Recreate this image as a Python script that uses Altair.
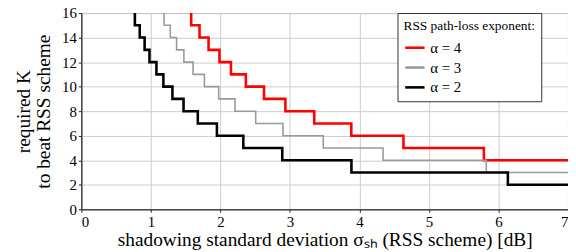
import altair as alt
import pandas as pd

# ---- data ----
series_names = ["α = 4", "α = 3", "α = 2"]
series_colors = ["#ff0000", "#9a9a9a", "#000000"]
series_widths = [2.6, 1.6, 2.6]

# sigma values (dB) where required K drops, and K level after each drop
red_x = [1.58, 1.70, 1.83, 1.987, 2.152, 2.366, 2.627, 2.935, 3.35, 3.883, 4.633, 5.79]
red_k = [15, 14, 13, 12, 11, 10, 9, 8, 7, 6, 5, 4]

gray_x = [1.19, 1.28, 1.37, 1.475, 1.607, 1.77, 1.975, 2.21, 2.508, 2.90, 3.48, 4.34, 5.825]
gray_k = [15, 14, 13, 12, 11, 10, 9, 8, 7, 6, 5, 4, 3]

black_x = [0.77, 0.84, 0.91, 0.98, 1.08, 1.18, 1.31, 1.47, 1.675, 1.95, 2.33, 2.89, 3.885, 6.135]
black_k = [15, 14, 13, 12, 11, 10, 9, 8, 7, 6, 5, 4, 3, 2]

x_ticks = [0, 1, 2, 3, 4, 5, 6, 7]
y_ticks = [0, 2, 4, 6, 8, 10, 12, 14, 16]
K_TOP = 16
X_END = 7

rows = []
for name, w, xs, ks in [(series_names[0], series_widths[0], red_x, red_k),
                        (series_names[1], series_widths[1], gray_x, gray_k),
                        (series_names[2], series_widths[2], black_x, black_k)]:
    pts = [(xs[0], K_TOP)] + list(zip(xs, ks)) + [(X_END, ks[-1])]
    for i, (x, k) in enumerate(pts):
        rows.append({"sigma": x, "K": k, "series": name, "idx": i, "sw": w})
df = pd.DataFrame(rows)

FONT = "Liberation Serif"

chart = alt.Chart(df).mark_line(interpolate="step-after", clip=True).encode(
    x=alt.X("sigma:Q",
            scale=alt.Scale(domain=[0, 7], nice=False),
            axis=alt.Axis(values=x_ticks, format="d",
                          title="shadowing standard deviation σₛₕ (RSS scheme) [dB]",
                          titlePadding=2)),
    y=alt.Y("K:Q",
            scale=alt.Scale(domain=[0, 16], nice=False),
            axis=alt.Axis(values=y_ticks, format="d",
                          title=["required K", "to beat RSS scheme"],
                          titlePadding=8)),
    color=alt.Color("series:N",
                    scale=alt.Scale(domain=series_names, range=series_colors),
                    legend=alt.Legend(title="RSS path-loss exponent:",
                                      orient="none", legendX=319, legendY=0,
                                      symbolType="stroke", symbolSize=380,
                                      symbolStrokeWidth=2.6,
                                      strokeColor="#333333", fillColor="white",
                                      padding=6, rowPadding=0, titlePadding=4,
                                      labelOffset=4,
                                      titleFont=FONT, titleFontSize=13.5,
                                      titleFontWeight="normal", titleColor="black",
                                      labelFont=FONT, labelFontSize=15,
                                      labelColor="black")),
    strokeWidth=alt.StrokeWidth("sw:Q", scale=None),
    order=alt.Order("idx:Q"),
).properties(
    width=491, height=198,
    autosize=alt.AutoSizeParams(type="none"),
    padding={"left": 74, "top": 4, "right": 0, "bottom": 42},
).configure_view(
    stroke="#222222", strokeWidth=1
).configure_axis(
    labelFont=FONT, labelFontSize=15, labelColor="black",
    titleFont=FONT, titleFontSize=19.5, titleFontWeight="normal", titleColor="black",
    titleLineHeight=20,
    gridColor="#cccccc", gridWidth=1,
    domainColor="#222222", tickColor="#222222", tickSize=3,
    labelPadding=2,
)

chart.save("out.html", embed_options={"renderer": "svg", "actions": False})
